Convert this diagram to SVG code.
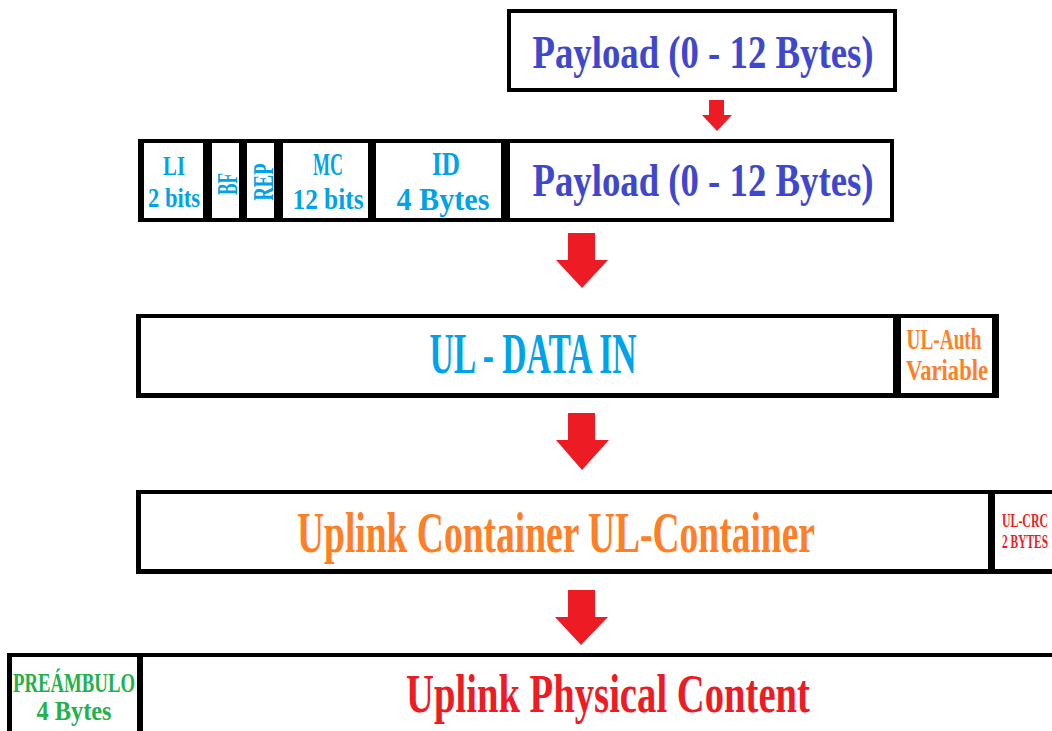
<svg xmlns="http://www.w3.org/2000/svg" width="1052" height="731" viewBox="0 0 1052 731">
<style>
.frame{fill:#000}
.cell{fill:#fff}
text{font-family:"Liberation Serif","DejaVu Serif",serif;font-weight:bold;text-anchor:middle}
.blue{fill:#3f48cc}
.cyan{fill:#00a2e8}
.orange{fill:#ff7f27}
.red{fill:#ed1c24}
.green{fill:#22b14c}
.arrow{fill:#ed1c24}
</style>
<rect width="1052" height="731" fill="#fff"/>
<g id="payload-top">
<rect class="frame" x="507" y="9" width="390" height="83"/>
<rect class="cell" x="511" y="13" width="382" height="75"/>
<text class="blue" x="703" y="68" font-size="46" textLength="341" lengthAdjust="spacingAndGlyphs">Payload (0 - 12 Bytes)</text>
</g>
<g id="frame-row">
<rect class="frame" x="138" y="139" width="756" height="83"/>
<g id="li">
<rect class="cell" x="144" y="143" width="59" height="75"/>
<text class="cyan" x="174" y="175" font-size="27" textLength="22" lengthAdjust="spacingAndGlyphs">LI</text>
<text class="cyan" x="174" y="207" font-size="28" textLength="52" lengthAdjust="spacingAndGlyphs">2 bits</text>
</g>
<g id="bf">
<rect class="cell" x="212" y="143" width="27" height="75"/>
<text class="cyan" transform="translate(237,184) rotate(-90)" font-size="30" textLength="22" lengthAdjust="spacingAndGlyphs">BF</text>
</g>
<g id="rep">
<rect class="cell" x="247" y="143" width="27" height="75"/>
<text class="cyan" transform="translate(273,182) rotate(-90)" font-size="30" textLength="37" lengthAdjust="spacingAndGlyphs">REP</text>
</g>
<g id="mc">
<rect class="cell" x="283" y="143" width="85" height="75"/>
<text class="cyan" x="328" y="175" font-size="32" textLength="30" lengthAdjust="spacingAndGlyphs">MC</text>
<text class="cyan" x="328" y="209" font-size="29" textLength="71" lengthAdjust="spacingAndGlyphs">12 bits</text>
</g>
<g id="id">
<rect class="cell" x="376" y="143" width="125" height="75"/>
<text class="cyan" x="446" y="175" font-size="34" textLength="28" lengthAdjust="spacingAndGlyphs">ID</text>
<text class="cyan" x="443" y="210" font-size="31" textLength="93" lengthAdjust="spacingAndGlyphs">4 Bytes</text>
</g>
<g id="payload">
<rect class="cell" x="510" y="143" width="380" height="75"/>
<text class="blue" x="703" y="196" font-size="46" textLength="341" lengthAdjust="spacingAndGlyphs">Payload (0 - 12 Bytes)</text>
</g>
</g>
<g id="ul-data-row">
<rect class="frame" x="136" y="314" width="863" height="84"/>
<g id="ul-data-in">
<rect class="cell" x="141" y="318" width="752" height="75"/>
<text class="cyan" x="533" y="373" font-size="57" textLength="207" lengthAdjust="spacingAndGlyphs">UL - DATA IN</text>
</g>
<g id="ul-auth">
<rect class="cell" x="901" y="318" width="91" height="75"/>
<text class="orange" x="944" y="349" font-size="30" textLength="75" lengthAdjust="spacingAndGlyphs">UL-Auth</text>
<text class="orange" x="947" y="380" font-size="30" textLength="82" lengthAdjust="spacingAndGlyphs">Variable</text>
</g>
</g>
<g id="container-row">
<rect class="frame" x="136" y="490" width="916" height="84"/>
<g id="ul-container">
<rect class="cell" x="141" y="494" width="847" height="75"/>
<text class="orange" x="556" y="552" font-size="56" textLength="518" lengthAdjust="spacingAndGlyphs">Uplink Container UL-Container</text>
</g>
<g id="ul-crc">
<rect class="cell" x="995" y="494" width="57" height="75"/>
<text class="red" x="1025" y="527" font-size="19" textLength="46" lengthAdjust="spacingAndGlyphs">UL-CRC</text>
<text class="red" x="1025" y="548" font-size="18" textLength="46" lengthAdjust="spacingAndGlyphs">2 BYTES</text>
</g>
</g>
<g id="physical-row">
<rect class="frame" x="7" y="653" width="1045" height="78"/>
<g id="preambulo">
<rect class="cell" x="12" y="657" width="125" height="74"/>
<text class="green" x="74" y="692" font-size="28" textLength="122" lengthAdjust="spacingAndGlyphs">PREÁMBULO</text>
<text class="green" x="74" y="720" font-size="28" textLength="75" lengthAdjust="spacingAndGlyphs">4 Bytes</text>
</g>
<g id="physical-content">
<rect class="cell" x="143" y="657" width="909" height="74"/>
<text class="red" x="608" y="712" font-size="54" textLength="404" lengthAdjust="spacingAndGlyphs">Uplink Physical Content</text>
</g>
</g>
<g id="connectors">
<polygon class="arrow" points="709,100 724,100 724,115 732,115 717,131 702,115 709,115"/>
<polygon class="arrow" points="568,233 595,233 595,260 608,260 582,288 556,260 568,260"/>
<polygon class="arrow" points="568,413 595,413 595,440 609,440 582,470 556,440 568,440"/>
<polygon class="arrow" points="568,590 595,590 595,617 608,617 581,645 555,617 568,617"/>
</g>
</svg>
